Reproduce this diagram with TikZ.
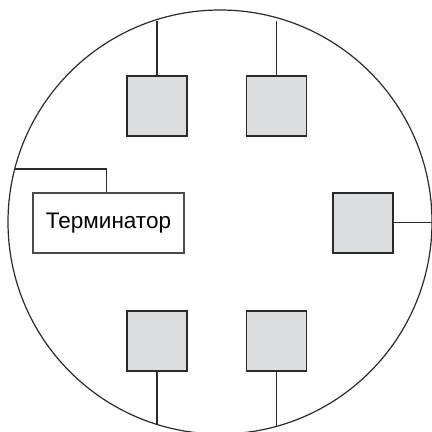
\documentclass[tikz,border=0pt]{standalone}
\usepackage{fontspec}
\setmainfont{Liberation Sans}
\definecolor{boxfill}{HTML}{DCDDDF}
\definecolor{edge}{HTML}{2A2A2A}
\begin{document}
\begin{tikzpicture}[x=1pt,y=-1pt,
  gbox/.style={draw=edge,fill=boxfill,line width=1.8pt,minimum width=60pt,minimum height=60pt,inner sep=0pt},
  tbox/.style={draw=edge!85,fill=white,line width=1.2pt,minimum width=151pt,minimum height=60pt,inner sep=0pt,font=\fontsize{22.5}{26}\selectfont},
  wire/.style={draw=edge,line width=1.3pt}]
\useasboundingbox (0,0) rectangle (432,432);
\clip (0,0) rectangle (432,432);
\draw[edge,line width=1.2pt] (220,222) circle[radius=212];
\node[gbox] (b1) at (157,106) {};
\node[gbox] (b2) at (276.5,106) {};
\node[gbox] (b3) at (363,222.7) {};
\node[gbox] (b4) at (157,341) {};
\node[gbox] (b5) at (276.5,341) {};
\node[tbox] (term) at (108.5,223) {Терминатор};
\coordinate (c1) at (157,20.5);
\coordinate (c2) at (276.5,20.5);
\coordinate (c3) at (432,222.7);
\coordinate (c4) at (157,424.5);
\coordinate (c5) at (276.5,426);
\coordinate (tk) at (106.7,169);
\coordinate (ct) at (14.7,169);
\draw[wire] (b1.north) -- (c1);
\draw[wire] (b2.north) -- (c2);
\draw[wire] (b3.east) -- (c3);
\draw[wire] (b4.south) -- (c4);
\draw[wire] (b5.south) -- (c5);
\draw[wire] (term.north -| tk) -- (tk) -- (ct);
\end{tikzpicture}
\end{document}
